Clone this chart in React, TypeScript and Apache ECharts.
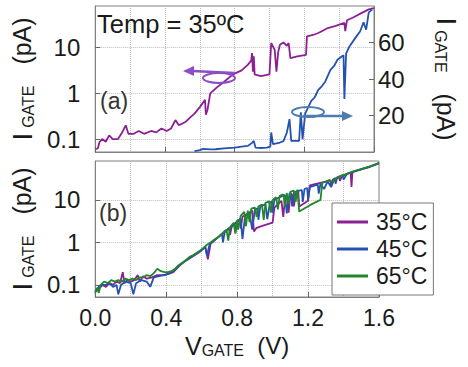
import React, { useEffect, useRef } from "react";
import * as echarts from "echarts";

// Panel (a): 35°C, left log axis (purple) and right linear axis (blue), [V_GATE (V), I_GATE (pA)]
const topLogSeries: [number, number][] = [
  [0.005, 0.06], [0.015, 0.063], [0.025, 0.087], [0.04, 0.1], [0.06, 0.087], [0.08, 0.12],
  [0.1, 0.1], [0.13, 0.1], [0.15, 0.13], [0.175, 0.2], [0.19, 0.13], [0.22, 0.13],
  [0.25, 0.15], [0.28, 0.13], [0.32, 0.15], [0.35, 0.14], [0.38, 0.17], [0.41, 0.15],
  [0.435, 0.17], [0.46, 0.26], [0.48, 0.2], [0.52, 0.24], [0.55, 0.31], [0.57, 0.36],
  [0.6, 0.5], [0.63, 0.72], [0.635, 0.34], [0.645, 0.45], [0.66, 1.0], [0.7, 1.37],
  [0.74, 1.8], [0.79, 2.6], [0.84, 3.2], [0.875, 4.2], [0.895, 5.2], [0.9, 7.6],
  [0.905, 3.0], [0.91, 6.5], [0.915, 2.6], [0.95, 2.4], [1.0, 2.6], [1.01, 12.7],
  [1.03, 9], [1.04, 3.0], [1.05, 8], [1.06, 11.6], [1.08, 13], [1.1, 11], [1.11, 12.7],
  [1.12, 5.9], [1.16, 6.5], [1.21, 7.0], [1.215, 17.7], [1.25, 19], [1.28, 21], [1.3, 23],
  [1.335, 27], [1.38, 30], [1.43, 35], [1.435, 23], [1.445, 40], [1.48, 46], [1.53, 58],
  [1.57, 69], [1.6, 74],
];
const topLinSeries: [number, number][] = [
  [0.57, 0.5], [0.6, 1.0], [0.62, 1.7], [0.66, 1.4], [0.69, 1.5], [0.74, 2.0], [0.8, 2.4],
  [0.84, 3.0], [0.875, 3.3], [0.9, 5], [0.91, 6.1], [0.92, 2.4], [0.95, 2.2], [0.985, 2.4],
  [1.005, 3], [1.01, 10.7], [1.02, 4.3], [1.06, 5.2], [1.08, 6], [1.1, 10.7], [1.115, 18],
  [1.125, 6.1], [1.17, 6.1], [1.18, 21.8], [1.19, 7], [1.205, 21], [1.24, 28], [1.26, 30],
  [1.28, 34], [1.3, 36], [1.32, 38.5], [1.35, 45], [1.37, 47], [1.39, 50.5], [1.425, 53],
  [1.43, 29], [1.44, 54], [1.46, 58], [1.5, 63.5], [1.52, 66], [1.54, 71], [1.555, 67],
  [1.57, 76.5], [1.59, 78],
];

// Panel (b): three temperatures, log axis
const series35: [number, number][] = [
  [0, 0.07], [0.02, 0.08], [0.04, 0.1], [0.06, 0.09], [0.08, 0.11], [0.1, 0.1], [0.12, 0.12],
  [0.14, 0.11], [0.155, 0.2], [0.165, 0.11], [0.18, 0.13], [0.2, 0.12], [0.22, 0.13],
  [0.24, 0.17], [0.25, 0.12], [0.27, 0.16], [0.29, 0.14], [0.32, 0.15], [0.35, 0.17],
  [0.38, 0.17], [0.41, 0.18], [0.44, 0.2], [0.47, 0.27], [0.5, 0.35], [0.53, 0.42],
  [0.56, 0.5], [0.59, 0.6], [0.62, 0.8], [0.635, 0.4], [0.65, 0.92], [0.68, 1.2],
  [0.71, 1.5], [0.74, 1.9], [0.755, 2.2], [0.76, 1.5], [0.77, 2.4], [0.8, 3.1], [0.815, 3.5],
  [0.82, 2.1], [0.83, 4.0], [0.86, 4.8], [0.885, 5.6], [0.895, 1.8], [0.91, 2.2], [0.95, 2.5],
  [1.0, 2.9], [1.01, 6.5], [1.03, 8], [1.05, 9.5], [1.06, 4], [1.07, 10], [1.085, 11],
  [1.09, 5], [1.1, 12], [1.115, 13], [1.12, 7], [1.13, 14], [1.145, 15.5], [1.15, 7],
  [1.2, 9.5], [1.21, 22], [1.25, 24], [1.3, 27], [1.325, 29], [1.33, 21], [1.34, 30],
  [1.375, 34], [1.38, 28], [1.39, 36], [1.44, 44], [1.445, 20], [1.45, 45], [1.5, 52],
  [1.55, 60], [1.6, 72],
];
const series45: [number, number][] = [
  [0, 0.07], [0.02, 0.09], [0.04, 0.1], [0.06, 0.1], [0.08, 0.11], [0.1, 0.09], [0.12, 0.1],
  [0.13, 0.06], [0.145, 0.1], [0.17, 0.12], [0.2, 0.11], [0.215, 0.06], [0.23, 0.11],
  [0.26, 0.13], [0.29, 0.12], [0.31, 0.09], [0.33, 0.15], [0.36, 0.16], [0.39, 0.17],
  [0.42, 0.19], [0.45, 0.23], [0.48, 0.3], [0.51, 0.37], [0.54, 0.45], [0.57, 0.54],
  [0.6, 0.66], [0.62, 0.78], [0.63, 0.5], [0.645, 0.9], [0.67, 1.1], [0.7, 1.4], [0.715, 1.6],
  [0.72, 1.0], [0.73, 1.75], [0.76, 2.2], [0.785, 2.7], [0.79, 1.7], [0.8, 3.1], [0.82, 3.6],
  [0.83, 1.2], [0.845, 4.2], [0.87, 5], [0.885, 2.0], [0.9, 5.8], [0.915, 6.3], [0.92, 3.4],
  [0.93, 6.8], [0.96, 8], [0.97, 3.5], [0.985, 8.6], [0.995, 9.2], [1.0, 5], [1.01, 10],
  [1.04, 11.5], [1.07, 13], [1.08, 4.8], [1.095, 14], [1.105, 14.5], [1.11, 7], [1.12, 15],
  [1.15, 16.5], [1.165, 17], [1.17, 9], [1.18, 18], [1.195, 19], [1.2, 10], [1.21, 20],
  [1.24, 22], [1.255, 23], [1.26, 14], [1.27, 24], [1.29, 18], [1.31, 27], [1.33, 20],
  [1.35, 33], [1.355, 24], [1.365, 34], [1.38, 36], [1.395, 38], [1.4, 30], [1.42, 41],
  [1.46, 47], [1.5, 53], [1.55, 61], [1.6, 73],
];
const series65: [number, number][] = [
  [0, 0.065], [0.01, 0.085], [0.02, 0.065], [0.03, 0.1], [0.05, 0.12], [0.07, 0.11],
  [0.09, 0.13], [0.11, 0.12], [0.13, 0.13], [0.15, 0.12], [0.17, 0.14], [0.19, 0.13],
  [0.21, 0.14], [0.23, 0.13], [0.25, 0.15], [0.27, 0.15], [0.29, 0.17], [0.31, 0.16],
  [0.33, 0.19], [0.35, 0.24], [0.37, 0.21], [0.39, 0.2], [0.41, 0.2], [0.43, 0.21],
  [0.45, 0.24], [0.47, 0.29], [0.49, 0.33], [0.51, 0.38], [0.53, 0.45], [0.55, 0.5],
  [0.57, 0.56], [0.59, 0.64], [0.61, 0.74], [0.63, 0.88], [0.65, 1.0], [0.67, 1.15],
  [0.69, 1.3], [0.71, 1.55], [0.73, 1.85], [0.74, 2.0], [0.75, 1.1], [0.76, 2.3], [0.78, 2.9],
  [0.79, 1.6], [0.8, 3.4], [0.805, 2.0], [0.82, 4.2], [0.84, 5.2], [0.85, 2.4], [0.86, 5.6],
  [0.87, 3.0], [0.88, 6.2], [0.9, 6.6], [0.91, 4.0], [0.92, 7.0], [0.94, 7.8], [0.95, 3.4],
  [0.96, 8.5], [0.98, 9.3], [0.99, 5.0], [1.0, 10], [1.02, 11.5], [1.03, 6], [1.04, 12.5],
  [1.06, 13.5], [1.07, 7], [1.08, 14.5], [1.09, 8], [1.1, 15.5], [1.12, 16.5], [1.13, 9],
  [1.14, 17.4], [1.15, 5.3], [1.21, 7.5], [1.27, 10], [1.28, 25], [1.3, 27], [1.32, 29],
  [1.34, 26], [1.36, 33], [1.4, 38], [1.45, 46], [1.5, 53], [1.55, 61], [1.6, 74],
];

const legendNames = ["35°C", "45°C", "65°C"];
const PURPLE = "#8c1f94";
const BLUE = "#2352b0";
const GREEN = "#23862a";
const FONT = "'Liberation Sans', Arial, sans-serif";
const TXT = "#1a1a1a";

const grid = { show: true, borderColor: "#808080", borderWidth: 1, backgroundColor: "transparent" };
const dotted = { type: "dotted" as const, color: "#bdbdbd", width: 1 };
const tickStyle = { inside: true, length: 5, lineStyle: { color: "#666" } };
const logFmt = (v: number) => (v < 1 ? v.toFixed(1) : String(Math.round(v)));

const iName = "{i|I}{s|GATE}{p|   (pA)}";
const nameRich = {
  i: { fontSize: 28, fontFamily: FONT, color: TXT, padding: [0, 5, 0, 0] },
  s: { fontSize: 16, fontFamily: FONT, color: TXT, verticalAlign: "bottom" },
  p: { fontSize: 25, fontFamily: FONT, color: TXT },
  v: { fontSize: 25, fontFamily: FONT, color: TXT },
};
const xNameRich = {
  v: { fontSize: 25, fontFamily: FONT, color: TXT },
  s: { fontSize: 16, fontFamily: FONT, color: TXT, verticalAlign: "bottom" },
  p: { fontSize: 24, fontFamily: FONT, color: TXT },
};

export default function App() {
  const ref = useRef<HTMLDivElement>(null);
  useEffect(() => {
    const chart = echarts.init(ref.current!, null, { renderer: "svg" });
    const xBase = (grid: number, labels: boolean) => ({
      gridIndex: grid,
      type: "value",
      min: 0,
      max: 1.6,
      interval: 0.4,
      axisLine: { show: true, lineStyle: { color: "#808080" } },
      axisTick: tickStyle,
      axisLabel: {
        show: labels,
        fontSize: 23,
        fontFamily: FONT,
        color: TXT,
        margin: 9,
        formatter: (v: number) => v.toFixed(1),
      },
      splitLine: { show: true, lineStyle: dotted },
      minorTick: { show: false, splitNumber: 2 },
      minorSplitLine: { show: true, lineStyle: dotted },
    });
    const logAxis = (grid: number) => ({
      gridIndex: grid,
      type: "log",
      logBase: 10,
      min: 0.052,
      max: 82,
      axisLine: { show: true, lineStyle: { color: "#808080" } },
      axisTick: tickStyle,
      axisLabel: {
        fontSize: 24,
        fontFamily: FONT,
        color: TXT,
        margin: 15,
        showMinLabel: false,
        showMaxLabel: false,
        formatter: logFmt,
      },
      splitLine: { show: true, lineStyle: dotted },
      name: iName,
      nameLocation: "middle",
      nameRotate: 90,
      nameGap: 48,
      nameTextStyle: { rich: nameRich },
    });
    const line = (name: string, data: [number, number][], color: string, xi: number, yi: number) => ({
      name,
      type: "line",
      data,
      xAxisIndex: xi,
      yAxisIndex: yi,
      symbol: "none",
      showSymbol: false,
      smooth: false,
      color,
      lineStyle: { color, width: 1.8 },
      clip: true,
      silent: true,
    });
    chart.setOption({
      animation: false,
      grid: [
        { ...grid, left: 88, top: 6, width: 290, height: 146 },
        { ...grid, left: 88, top: 161, width: 291, height: 136 },
      ],
      xAxis: [
        xBase(0, false),
        {
          ...xBase(1, true),
          name: "{v|V}{s|GATE}{p|  (V)}",
          nameLocation: "middle",
          nameGap: 36,
          nameTextStyle: { rich: xNameRich },
        },
      ],
      yAxis: [
        logAxis(0),
        {
          gridIndex: 0,
          type: "value",
          position: "right",
          min: 0,
          max: 80,
          interval: 20,
          axisLine: { show: true, lineStyle: { color: "#808080" } },
          axisTick: tickStyle,
          axisLabel: {
            fontSize: 24,
            fontFamily: FONT,
            color: TXT,
            margin: 4,
            showMinLabel: false,
            showMaxLabel: false,
          },
          splitLine: { show: false },
          name: iName,
          nameLocation: "middle",
          nameRotate: -90,
          nameGap: 58,
          nameTextStyle: { rich: nameRich },
        },
        logAxis(1),
      ],
      legend: {
        data: legendNames,
        orient: "vertical",
        left: 332,
        top: 203,
        padding: [6, 6, 6, 5],
        itemGap: 1,
        itemWidth: 31,
        itemHeight: 3,
        icon: "rect",
        backgroundColor: "#fff",
        borderColor: "#777",
        borderWidth: 1,
        borderRadius: 0,
        selectedMode: false,
        textStyle: {
          fontSize: 23,
          fontFamily: FONT,
          color: TXT,
          lineHeight: 26,
          padding: [0, 0, 0, 3],
        },
      },
      series: [
        line("top35log", topLogSeries, PURPLE, 0, 0),
        line("top35lin", topLinSeries, BLUE, 0, 1),
        line(legendNames[0], series35, PURPLE, 1, 2),
        line(legendNames[1], series45, BLUE, 1, 2),
        line(legendNames[2], series65, GREEN, 1, 2),
      ],
      graphic: [
        {
          type: "text",
          x: 97,
          y: 24,
          z: 100,
          style: { text: "Temp = 35ºC", font: `25.5px ${FONT}`, fill: TXT, verticalAlign: "middle" },
        },
        {
          type: "text",
          x: 100,
          y: 101,
          z: 100,
          style: { text: "(a)", font: `23px ${FONT}`, fill: "#333", verticalAlign: "middle" },
        },
        {
          type: "text",
          x: 99,
          y: 213,
          z: 100,
          style: { text: "(b)", font: `23px ${FONT}`, fill: "#333", verticalAlign: "middle" },
        },
        // purple arrow (points to left axis)
        {
          type: "ellipse",
          z: 100,
          shape: { cx: 219, cy: 78, rx: 16, ry: 5 },
          style: { fill: "none", stroke: "#8a4fc4", lineWidth: 2 },
        },
        {
          type: "line",
          z: 100,
          shape: { x1: 192, y1: 71, x2: 235, y2: 73 },
          style: { stroke: "#8a4fc4", lineWidth: 2.5 },
        },
        {
          type: "polygon",
          z: 100,
          shape: { points: [[183, 71], [194, 66], [194, 76]] },
          style: { fill: "#8a4fc4" },
        },
        // blue arrow (points to right axis)
        {
          type: "ellipse",
          z: 100,
          shape: { cx: 308, cy: 112, rx: 16, ry: 5 },
          style: { fill: "none", stroke: "#4c7db0", lineWidth: 2 },
        },
        {
          type: "line",
          z: 100,
          shape: { x1: 303, y1: 116, x2: 344, y2: 116 },
          style: { stroke: "#4c7db0", lineWidth: 2.5 },
        },
        {
          type: "polygon",
          z: 100,
          shape: { points: [[353, 116], [342, 111], [342, 121]] },
          style: { fill: "#4c7db0" },
        },
      ],
    });
    return () => chart.dispose();
  }, []);
  return (
    <div
      ref={ref}
      style={{ position: "absolute", left: 0, top: 0, width: 468, height: 367, background: "#fff" }}
    />
  );
}
